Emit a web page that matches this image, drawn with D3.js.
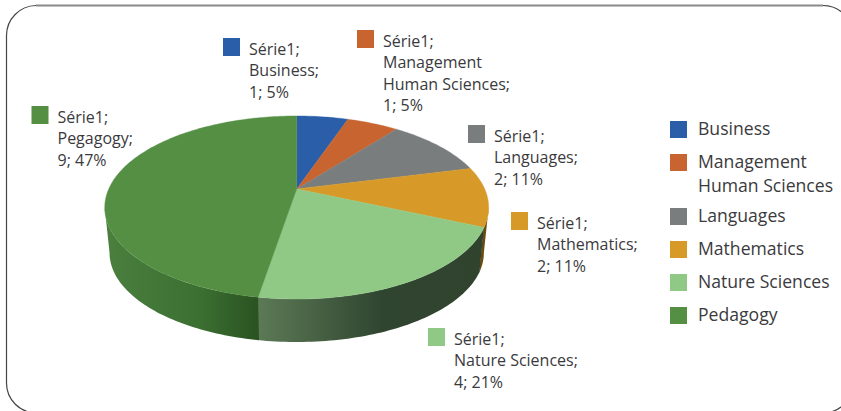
<!DOCTYPE html>
<html>
<head>
<meta charset="utf-8">
<script src="https://cdnjs.cloudflare.com/ajax/libs/d3/7.8.5/d3.min.js"></script>
<style>
html, body {margin: 0; padding: 0; background: #fff; overflow: hidden;}
text {font-family: "Open Sans", sans-serif; fill: #3b3a3c;}
</style>
</head>
<body>
<div id="vis"></div>
<script>
var categories = ["Business", "Management Human Sciences", "Languages", "Mathematics", "Nature Sciences", "Pedagogy"];
var values = [1, 1, 2, 2, 4, 9];
var percents = ["5%", "5%", "11%", "11%", "21%", "47%"];
var seriesName = "Série1";
var colors = ["#2b5ea8", "#c8642f", "#7a7d7d", "#d79a28", "#90c985", "#548f43"];

// wrapped lines, as in the original labels
var legendLines = [["Business"], ["Management", "Human Sciences"], ["Languages"], ["Mathematics"], ["Nature Sciences"], ["Pedagogy"]];
var labelNames = [["Business;"], ["Management", "Human Sciences;"], ["Languages;"], ["Mathematics;"], ["Nature Sciences;"], ["Pegagogy;"]];

var width = 841, height = 411;

var svg = d3.select("#vis").append("svg")
    .attr("width", width)
    .attr("height", height);

var defs = svg.append("defs");

function addGradient(id, x1, x2, stops){
    var g = defs.append("linearGradient")
        .attr("id", id)
        .attr("gradientUnits", "userSpaceOnUse")
        .attr("x1", x1).attr("x2", x2)
        .attr("y1", 0).attr("y2", 0);
    stops.forEach(function(s){
        g.append("stop").attr("offset", s[0]).attr("stop-color", s[1]);
    });
}

addGradient("sidePedagogy", 105, 258, [[0, "#4a7f3e"], [0.6, "#3c7032"], [1, "#2a5322"]]);
addGradient("sideNature", 258, 484, [[0, "#5c7a56"], [0.55, "#304530"], [1, "#30432d"]]);

//frame, only partly inside the window
svg.append("path")
    .attr("d", "M36,5.5 H823 A30,30 0 0 1 853,35.5 V383 A30,30 0 0 1 823,413 H36.5 A30,30 0 0 1 6.5,383 V35.5 A30,30 0 0 1 36,5.5")
    .attr("fill", "none")
    .attr("stroke", "#444")
    .attr("stroke-width", 1.2);
svg.append("line")
    .attr("x1", 36).attr("x2", 823)
    .attr("y1", 5.5).attr("y2", 5.5)
    .attr("stroke", "#8a8a8a")
    .attr("stroke-width", 2);

var pie = d3.pie().sort(null)(values);

// tilted disc: the near side of the circle is drawn bigger, so the apex sits above the ellipse centre
var apexX = 296.7, apexY = 189, rimA = 188, rimB = 87.8, tilt = 0.202;
var depthY = 45.75, depthScale = 0.975;

// angles where the rim turns away from the viewer, the side wall stops there
var wallStart = Math.acos(-tilt), wallEnd = 2 * Math.PI - wallStart;

function project(angle, scale, dy){
    var u = Math.sin(angle), v = -Math.cos(angle);
    var w = 1 - tilt * v;
    return [apexX + scale * rimA * u / w, apexY + dy + scale * rimB * v / w];
}

function rim(a0, a1, scale, dy){
    var steps = Math.max(2, Math.ceil((a1 - a0) / 0.02));
    return d3.range(steps + 1).map(function(i){
        return project(a0 + (a1 - a0) * i / steps, scale, dy);
    });
}

var line = d3.line();

function sidePath(a0, a1){
    var top = rim(a0, a1, 1, 0);
    var bottom = rim(a0, a1, depthScale, depthY).reverse();
    return line(top.concat(bottom)) + "Z";
}

var pieG = svg.append("g").attr("class", "pie");

//sides: only nature sciences, pedagogy and a sliver of mathematics face the viewer
pieG.append("path")
    .attr("d", sidePath(wallStart, pie[3].endAngle + 0.01))
    .attr("fill", "#6b4a12");
pieG.append("path")
    .attr("d", sidePath(pie[4].startAngle, pie[4].endAngle + 0.005))
    .attr("fill", "url(#sideNature)");
pieG.append("path")
    .attr("d", sidePath(pie[5].startAngle, wallEnd))
    .attr("fill", "url(#sidePedagogy)");

pieG.selectAll(".slice")
    .data(pie)
    .enter()
    .append("path")
    .attr("class", "slice")
    .attr("d", function(d){
        return line([[apexX, apexY]].concat(rim(d.startAngle, d.endAngle, 1, 0))) + "Z";
    })
    .attr("fill", function(d, i){ return colors[i]; })
    .attr("stroke", function(d, i){ return colors[i]; })
    .attr("stroke-width", 0.4);

//data labels, swatch + text block
var labelX = [223, 357, 468, 511, 428, 31.5];
var labelY = [38, 30, 125, 212, 328, 106];

var labels = svg.selectAll(".data-label")
    .data(categories)
    .enter()
    .append("g")
    .attr("class", "data-label")
    .attr("transform", function(d, i){ return "translate(" + labelX[i] + "," + labelY[i] + ")"; });

labels.append("rect")
    .attr("width", 17)
    .attr("height", 18)
    .attr("fill", function(d, i){ return colors[i]; });

labels.each(function(d, i){
    var rows = [seriesName + ";"].concat(labelNames[i], [values[i] + "; " + percents[i]]);
    d3.select(this).selectAll("text")
        .data(rows)
        .enter()
        .append("text")
        .attr("x", 26)
        .attr("y", function(r, j){ return 17 + j * 21.3; })
        .attr("font-size", 16)
        .text(function(r){ return r; });
});

//legend
var legendSwatch = d3.scaleOrdinal().domain(categories).range([121, 154, 208, 241, 274, 307]);

var legend = svg.selectAll(".legend-item")
    .data(categories)
    .enter()
    .append("g")
    .attr("class", "legend-item")
    .attr("transform", function(d){ return "translate(670," + legendSwatch(d) + ")"; });

legend.append("rect")
    .attr("width", 17)
    .attr("height", 17)
    .attr("fill", function(d, i){ return colors[i]; });

legend.each(function(d, i){
    d3.select(this).selectAll("text")
        .data(legendLines[i])
        .enter()
        .append("text")
        .attr("x", 28)
        .attr("y", function(r, j){ return 14 + j * 24; })
        .attr("font-size", 17.6)
        .text(function(r){ return r; });
});
</script>
</body>
</html>
